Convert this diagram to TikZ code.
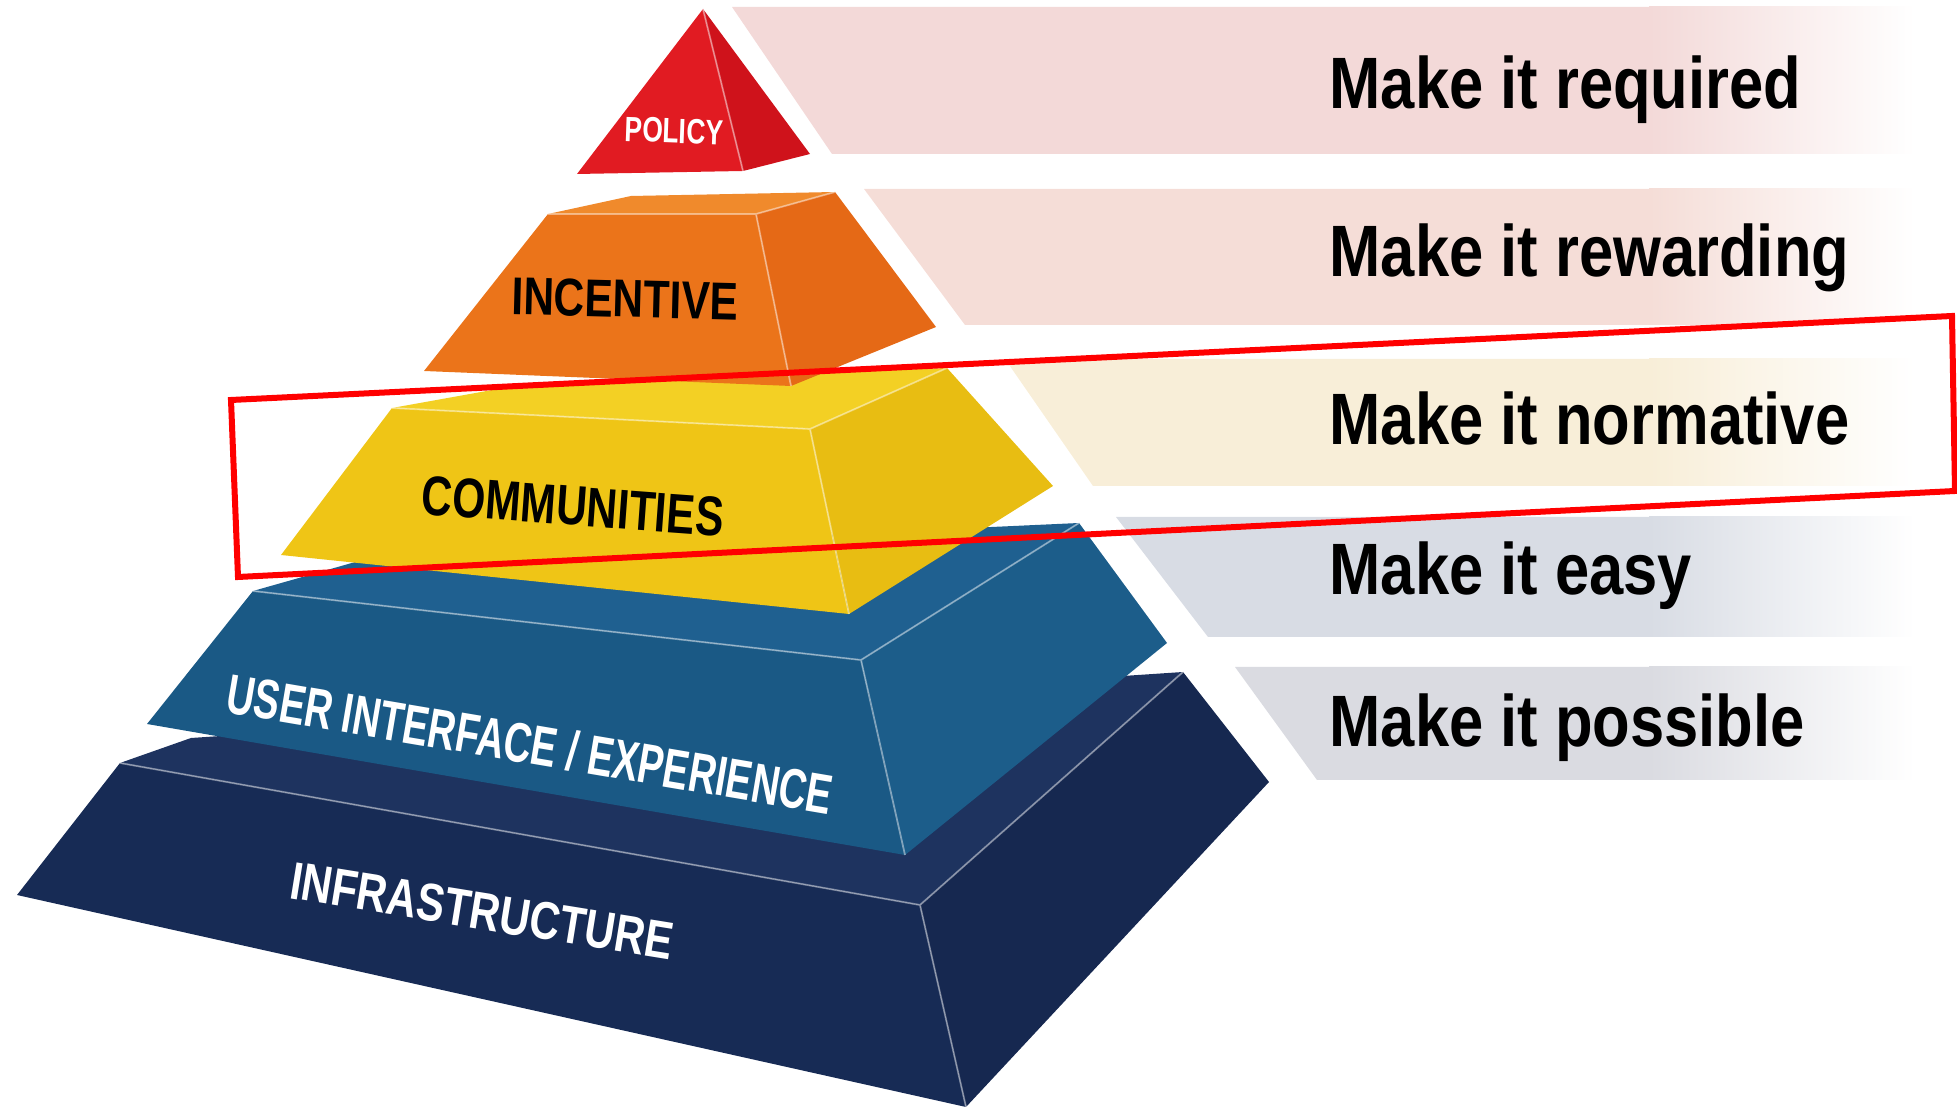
\documentclass[tikz,border=0pt]{standalone}
\usepackage{fontspec}
\setmainfont{Liberation Sans}
\usepackage{graphicx}

\definecolor{policyfront}{HTML}{E11B22}
\definecolor{policyside}{HTML}{CF121B}
\definecolor{incenttop}{HTML}{F08A2C}
\definecolor{incentfront}{HTML}{EB741A}
\definecolor{incentside}{HTML}{E56916}
\definecolor{commtop}{HTML}{F3D024}
\definecolor{commfront}{HTML}{EFC516}
\definecolor{commside}{HTML}{E8BD12}
\definecolor{uitop}{HTML}{1F6090}
\definecolor{uifront}{HTML}{1A5985}
\definecolor{uiside}{HTML}{1C5D8A}
\definecolor{infratop}{HTML}{1E335F}
\definecolor{infrafront}{HTML}{172B55}
\definecolor{infraside}{HTML}{162850}
\definecolor{bandrose}{HTML}{F3D9D8}
\definecolor{bandpeach}{HTML}{F5DDD7}
\definecolor{bandcream}{HTML}{F8EED8}
\definecolor{bandblue}{HTML}{D8DCE4}
\definecolor{bandgrey}{HTML}{DADBE1}

\tikzset{
  arete/.style={white, opacity=0.45, line width=0.5pt},
  etiquette/.style={inner sep=0pt, font=\bfseries},
  slogan/.style={inner sep=0pt, anchor=base west, font=\fontsize{20.7}{24}\selectfont\bfseries},
  cadre/.style={draw=red, line width=0.06cm, line join=miter}
}

% couleur, y haut, y bas, x haut, x bas
\newcommand{\bande}[5]{%
  \fill[#1] (#4,#2) -- (1650,#2) -- (1650,#3) -- (#5,#3) -- cycle;
  \shade[left color=#1, right color=white] (1649,#2) rectangle (1915,#3);
}

\begin{document}
\begin{tikzpicture}[x=0.01cm, y=-0.01cm]
\useasboundingbox (0,0) rectangle (1957,1107);

\bande{bandrose}{7}{154}{732}{832}
\bande{bandpeach}{189}{325}{864}{965}
\bande{bandcream}{359}{486}{1005}{1093}
\bande{bandblue}{517}{637}{1116}{1208}
\bande{bandgrey}{667}{780}{1235}{1317}

% socle
\coordinate (i1) at (120,763); \coordinate (i2) at (191,738); \coordinate (i3) at (1183,672);
\coordinate (i4) at (920,905); \coordinate (i5) at (17,895); \coordinate (i6) at (966,1107);
\coordinate (i7) at (1269,782);
\fill[infratop] (i1) -- (i2) -- (i3) -- (i4) -- cycle;
\fill[infrafront] (i1) -- (i4) -- (i6) -- (i5) -- cycle;
\fill[infraside] (i4) -- (i3) -- (i7) -- (i6) -- cycle;
\draw[arete] (i1) -- (i4) -- (i3) (i4) -- (i6);

\coordinate (u1) at (253,591); \coordinate (u2) at (380,555); \coordinate (u3) at (1079,523);
\coordinate (u4) at (861,660); \coordinate (u5) at (147,724); \coordinate (u6) at (905,855);
\coordinate (u7) at (1167,643);
\fill[uitop] (u1) -- (u2) -- (u3) -- (u4) -- cycle;
\fill[uifront] (u1) -- (u4) -- (u6) -- (u5) -- cycle;
\fill[uiside] (u4) -- (u3) -- (u7) -- (u6) -- cycle;
\draw[arete] (u1) -- (u4) -- (u3) (u4) -- (u6);

\coordinate (c1) at (392,408); \coordinate (c2) at (520,385); \coordinate (c3) at (947,368);
\coordinate (c4) at (810,429); \coordinate (c5) at (281,555); \coordinate (c6) at (849,614);
\coordinate (c7) at (1053,486);
\fill[commtop] (c1) -- (c2) -- (c3) -- (c4) -- cycle;
\fill[commfront] (c1) -- (c4) -- (c6) -- (c5) -- cycle;
\fill[commside] (c4) -- (c3) -- (c7) -- (c6) -- cycle;
\draw[arete] (c1) -- (c4) -- (c3) (c4) -- (c6);

\coordinate (n1) at (548,214); \coordinate (n2) at (631,196); \coordinate (n3) at (835,192);
\coordinate (n4) at (756,214); \coordinate (n5) at (424,371); \coordinate (n6) at (791,386);
\coordinate (n7) at (936,327);
\fill[incenttop] (n1) -- (n2) -- (n3) -- (n4) -- cycle;
\fill[incentfront] (n1) -- (n4) -- (n6) -- (n5) -- cycle;
\fill[incentside] (n4) -- (n3) -- (n7) -- (n6) -- cycle;
\draw[arete] (n1) -- (n4) -- (n3) (n4) -- (n6);

\coordinate (p1) at (703,9); \coordinate (p2) at (577,174); \coordinate (p3) at (743,171);
\coordinate (p4) at (810,154);
\fill[policyfront] (p1) -- (p2) -- (p3) -- cycle;
\fill[policyside] (p1) -- (p3) -- (p4) -- cycle;
\draw[arete] (p1) -- (p3);

\node[etiquette, white, font=\fontsize{10}{12}\selectfont\bfseries, rotate=-2] (policy) at (674,131) {\scalebox{0.75}[1]{POLICY}};
\node[etiquette, font=\fontsize{15.1}{18}\selectfont\bfseries, rotate=-1.5] (incentive) at (625,299) {\scalebox{0.8}[1]{INCENTIVE}};
\node[etiquette, font=\fontsize{15.9}{18}\selectfont\bfseries, rotate=-4.2] (communities) at (573,506) {\scalebox{0.76}[1]{COMMUNITIES}};
\node[etiquette, white, font=\fontsize{15.9}{18}\selectfont\bfseries, rotate=-9.6] (ux) at (530,744) {\scalebox{0.685}[1]{USER INTERFACE / EXPERIENCE}};
\node[etiquette, white, font=\fontsize{15.1}{18}\selectfont\bfseries, rotate=-9.2] (infra) at (482,911) {\scalebox{0.79}[1]{INFRASTRUCTURE}};

\node[slogan] (required) at (1329,109) {\scalebox{0.845}[1]{Make it required}};
\node[slogan] (rewarding) at (1329,277) {\scalebox{0.845}[1]{Make it rewarding}};
\node[slogan] (normative) at (1329,445) {\scalebox{0.845}[1]{Make it normative}};
\node[slogan] (easy) at (1329,595) {\scalebox{0.845}[1]{Make it easy}};
\node[slogan] (possible) at (1329,747) {\scalebox{0.845}[1]{Make it possible}};

\draw[cadre] (231,400) -- (1952,316) -- (1955,491) -- (238,577) -- cycle;
\end{tikzpicture}
\end{document}
